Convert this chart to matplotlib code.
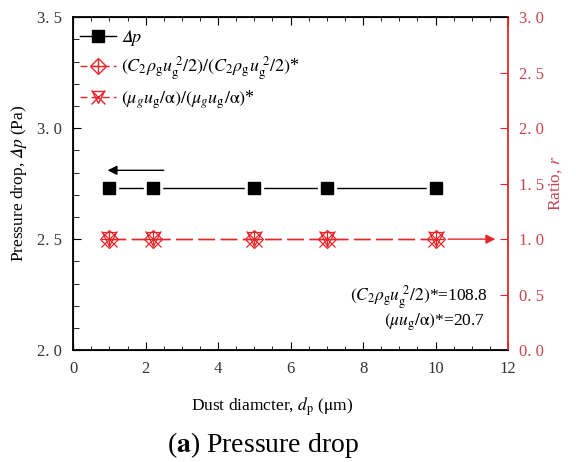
import matplotlib
matplotlib.use("Agg")
import matplotlib.pyplot as plt
from matplotlib.ticker import MultipleLocator, FixedLocator, FixedFormatter
from matplotlib.lines import Line2D

plt.rcParams['font.family'] = ['Liberation Serif', 'DejaVu Serif']
plt.rcParams['mathtext.fontset'] = 'stix'

# Data
dust_d = [1.0, 2.2, 5.0, 7.0, 10.0]
delta_p = [2.73, 2.73, 2.73, 2.73, 2.73]
ratio_inertial = [1.0, 1.0, 1.0, 1.0, 1.0]
ratio_viscous = [1.0, 1.0, 1.0, 1.0, 1.0]

left_ticks = [2.0, 2.5, 3.0, 3.5]
left_labels = ["2. 0", "2. 5", "3. 0", "3. 5"]
right_ticks = [0.0, 0.5, 1.0, 1.5, 2.0, 2.5, 3.0]
right_labels = ["0. 0", "0. 5", "1. 0", "1. 5", "2. 0", "2. 5", "3. 0"]
x_ticks = [0, 2, 4, 6, 8, 10, 12]

RED = '#e8262a'
RED_TXT = '#c9444f'

fig = plt.figure(figsize=(5.76, 4.62), dpi=100)
ax = fig.add_axes([0.127, 0.242, 0.755, 0.721])
ax2 = ax.twinx()

# Left axis: pressure drop
ax.plot(dust_d, delta_p, color='black', lw=1.0, zorder=2)
ax.plot(dust_d, delta_p, ls='none', marker='s', ms=13, mfc='white', mec='white', zorder=3)
ax.plot(dust_d, delta_p, ls='none', marker='s', ms=8.5, mfc='black', mec='black', zorder=4)

# Right axis: ratios
ax2.plot(dust_d, ratio_inertial, color=RED, lw=1.0, ls=(0, (12, 4)), zorder=2)
ax2.plot(dust_d, ratio_viscous, color=RED, lw=1.0, ls=(0, (12, 4)), zorder=2)
ax2.plot(dust_d, ratio_inertial, ls='none', marker='D', ms=9, mfc='none', mec=RED, mew=0.9, zorder=3)
ax2.plot(dust_d, ratio_inertial, ls='none', marker='+', ms=11, mec=RED, mew=0.9, zorder=3)
ax2.plot(dust_d, ratio_viscous, ls='none', marker='v', ms=10, mfc='none', mec=RED, mew=0.9, zorder=3)
ax2.plot(dust_d, ratio_viscous, ls='none', marker='x', ms=11, mec=RED, mew=0.9, zorder=3)

leg_h1 = Line2D([], [], color='black', lw=1.0, marker='s', ms=8, mfc='black', mec='black')
leg_h2 = (Line2D([], [], color=RED, lw=1.0, ls=(0, (5, 3))),
          Line2D([], [], ls='none', marker='D', ms=8, mfc='none', mec=RED),
          Line2D([], [], ls='none', marker='+', ms=10, mec=RED))
leg_h3 = (Line2D([], [], color=RED, lw=1.0, ls=(0, (5, 3))),
          Line2D([], [], ls='none', marker='v', ms=9, mfc='none', mec=RED),
          Line2D([], [], ls='none', marker='x', ms=10, mec=RED))
labels = ['$\U0001D6E5p$',
          r'$(C_2\rho_{\rm g}u_{\rm g}^{\ 2}/2)/(C_2\rho_{\rm g}u_{\rm g}^{\ 2}/2)$*',
          r'$(\mu_g u_{\rm g}/\mathrm{\alpha})/(\mu_g u_{\rm g}/\mathrm{\alpha})$*']
ax.legend([leg_h1, leg_h2, leg_h3], labels, loc='upper left', frameon=False,
          fontsize=13, handlelength=2.0, handletextpad=0.3, borderaxespad=0.2,
          labelspacing=0.35, bbox_to_anchor=(-0.01, 1.0))

# Axes setup
ax.set_xlim(0, 12)
ax.set_ylim(2.0, 3.5)
ax2.set_ylim(0.0, 3.0)

ax.xaxis.set_major_locator(FixedLocator(x_ticks))
ax.xaxis.set_minor_locator(MultipleLocator(0.5))
ax.yaxis.set_major_locator(FixedLocator(left_ticks))
ax.yaxis.set_major_formatter(FixedFormatter(left_labels))
ax.yaxis.set_minor_locator(MultipleLocator(0.1))
ax2.yaxis.set_major_locator(FixedLocator(right_ticks))
ax2.yaxis.set_major_formatter(FixedFormatter(right_labels))

ax.tick_params(axis='x', which='both', direction='in', top=True, labelsize=12,
               labelcolor='#333333', pad=8)
ax.tick_params(axis='x', which='major', length=6)
ax.tick_params(axis='x', which='minor', length=3)
ax.tick_params(axis='y', which='both', direction='in', right=False, labelsize=12,
               labelcolor='#333333', pad=8)
ax.tick_params(axis='y', which='major', length=6)
ax.tick_params(axis='y', which='minor', length=4)
ax2.tick_params(axis='y', which='major', direction='in', length=6, color=RED,
                labelcolor=RED_TXT, labelsize=12, pad=8)
ax2.spines['right'].set_color(RED)
ax2.spines['right'].set_linewidth(1.3)
for s in ['left', 'bottom', 'top']:
    ax.spines[s].set_linewidth(1.3)
ax.spines['right'].set_visible(False)

ax.set_xlabel(r'Dust diamcter, $d_{\rm p}$ ($\mathrm{\mu}$m)', fontsize=12.5)
ax.xaxis.set_label_coords(0.457, -0.135)
ax.set_ylabel('Pressure drop, $\U0001D6E5p$ (Pa)', fontsize=12.5, labelpad=6)
ax2.set_ylabel(r'Ratio, $r$', fontsize=12.5, color=RED_TXT, labelpad=2)

# Arrows
ax.annotate('', xy=(0.95, 2.81), xytext=(2.5, 2.81),
            arrowprops=dict(arrowstyle='-|>', color='black', lw=1.0,
                            mutation_scale=14, shrinkA=0, shrinkB=0))
ax2.annotate('', xy=(11.65, 1.0), xytext=(10.35, 1.0),
             arrowprops=dict(arrowstyle='-|>', color=RED, lw=1.0,
                             mutation_scale=14, shrinkA=0, shrinkB=0))

# Annotations
ax2.text(11.45, 0.48, r'$(C_2\rho_{\rm g}u_{\rm g}^{\ 2}/2)$*=108.8', ha='right', va='center', fontsize=12.5)
ax2.text(11.35, 0.25, r'$(\mu u_{\rm g}/\mathrm{\alpha})$*=20.7', ha='right', va='center', fontsize=12.5)

# Caption
fig.text(0.457, 0.036, r'($\mathbf{a}$) Pressure drop', ha='center', va='center', fontsize=20)

fig.savefig('out.png', dpi=100)
